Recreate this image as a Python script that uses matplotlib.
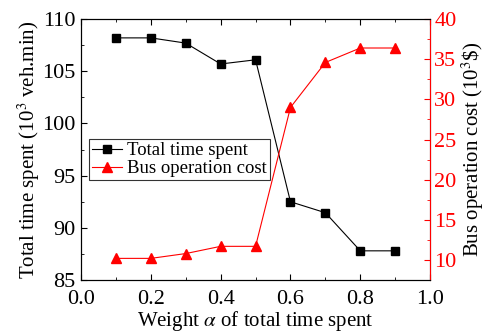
import matplotlib.pyplot as plt
from matplotlib.ticker import MultipleLocator

plt.rcParams['font.family'] = ['Liberation Serif', 'DejaVu Serif']
plt.rcParams['mathtext.fontset'] = 'stix'

# Data
weights = [0.1, 0.2, 0.3, 0.4, 0.5, 0.6, 0.7, 0.8, 0.9]
total_time = [108.2, 108.2, 107.7, 105.7, 106.1, 92.5, 91.45, 87.8, 87.8]
bus_cost = [10.2, 10.2, 10.8, 11.7, 11.7, 29.0, 34.6, 36.4, 36.4]

fig, ax = plt.subplots(figsize=(4.91, 3.35), dpi=100)
fig.subplots_adjust(left=0.165, right=0.876, top=0.943, bottom=0.164)
ax2 = ax.twinx()

l1, = ax.plot(weights, total_time, color='black', marker='s', markersize=5.5,
              linewidth=0.8, label='Total time spent')
l2, = ax2.plot(weights, bus_cost, color='red', marker='^', markersize=7.5,
               linewidth=0.8, label='Bus operation cost')

ax.set_xlim(0, 1.0)
ax.set_ylim(85, 110)
ax2.set_ylim(7.5, 40)

ax.xaxis.set_major_locator(MultipleLocator(0.2))
ax.xaxis.set_minor_locator(MultipleLocator(0.1))
ax.yaxis.set_major_locator(MultipleLocator(5))
ax.yaxis.set_minor_locator(MultipleLocator(2.5))
ax2.yaxis.set_major_locator(MultipleLocator(5))
ax2.yaxis.set_minor_locator(MultipleLocator(2.5))

ax.tick_params(axis='x', which='both', direction='in', top=True, labelsize=16, pad=7)
ax.tick_params(axis='y', which='both', direction='in', labelsize=16, pad=4)
ax.tick_params(which='major', length=4)
ax.tick_params(which='minor', length=2.5)
ax2.tick_params(axis='y', which='both', direction='in', colors='red', labelsize=16, pad=3)
ax2.tick_params(which='major', length=4)
ax2.tick_params(which='minor', length=2.5)
ax2.spines['right'].set_color('red')
ax.xaxis.set_major_formatter(plt.FormatStrFormatter('%.1f'))

ax.set_xlabel(r'Weight $\alpha$ of total time spent', fontsize=15, labelpad=0)
ax.set_ylabel(r'Total time spent (10$^3$ veh.min)', fontsize=15, labelpad=0)
ax2.set_ylabel(r'Bus operation cost (10$^3$\$)', fontsize=15, labelpad=2)

leg = ax.legend(handles=[l1, l2], loc='upper left', bbox_to_anchor=(0.023, 0.54),
                fontsize=13.5, frameon=True, fancybox=False, edgecolor='black',
                handlelength=1.6, handletextpad=0.3, borderpad=0.15,
                labelspacing=0.05, borderaxespad=0)
leg.get_frame().set_linewidth(0.8)

plt.savefig('out.png', dpi=100)
